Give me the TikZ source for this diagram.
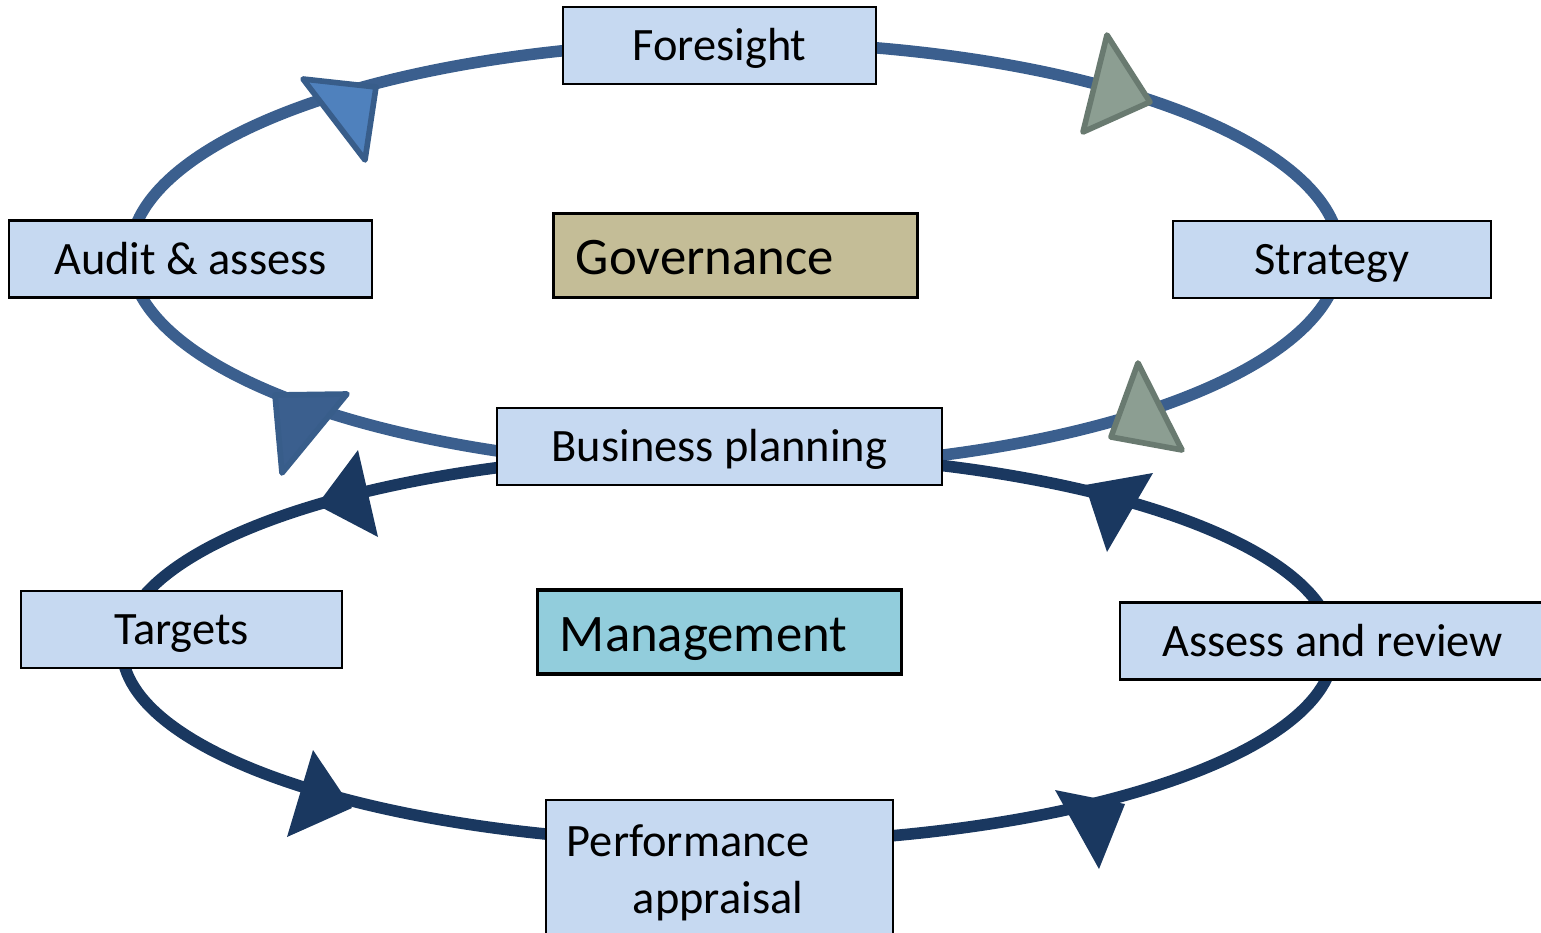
\documentclass[tikz,border=0pt]{standalone}
\usepackage{fontspec}
\setmainfont{Carlito}
\usetikzlibrary{positioning}

\definecolor{ringup}{HTML}{3B5F8E}
\definecolor{ringlow}{HTML}{1A3860}
\definecolor{stagefill}{HTML}{C6D9F1}
\definecolor{govfill}{HTML}{C4BD97}
\definecolor{mgmtfill}{HTML}{92CDDC}
\definecolor{tipblue}{HTML}{4F81BD}
\definecolor{tipblueline}{HTML}{385D8A}
\definecolor{tipgrey}{HTML}{8C9E92}
\definecolor{tipgreyline}{HTML}{697A70}

\begin{document}
\begin{tikzpicture}[x=0.01cm,y=-0.01cm,
  stage/.style={draw=black,line width=0.6pt,fill=stagefill,inner sep=0pt,
    minimum height=0.77cm,font=\fontsize{13.2}{16.2}\selectfont},
  oneline/.style={text height=9.2pt,text depth=0.4pt},
  area/.style={draw=black,line width=0.9pt,inner xsep=0.22cm,inner ysep=0pt,
    align=left,text width=3.19cm,minimum height=0.84cm,
    font=\fontsize{15}{18}\selectfont,text height=11.4pt,text depth=0.4pt},
  ring/.style={line width=3.3pt},
  tip/.style={line width=1.6pt,line join=round}
]
\useasboundingbox (0,0) rectangle (1541,933);
\clip (0,0) rectangle (1541,933);

% the two cycles
\coordinate (govc) at (735,255);
\coordinate (mgmtc) at (728,648);
\draw[ring,ringup] (govc) ellipse [x radius=605,y radius=-213];
\draw[ring,ringlow] (mgmtc) ellipse [x radius=606,y radius=-195];

% arrow heads, governance cycle
\draw[tip,draw=tipblueline,fill=tipblue] (303,79) -- (376,87) -- (365,160) -- cycle;
\draw[tip,draw=tipgreyline,fill=tipgrey] (1107,35) -- (1150,102) -- (1083,132) -- cycle;
\draw[tip,draw=tipgreyline,fill=tipgrey] (1138,363) -- (1182,450) -- (1111,437) -- cycle;
\draw[tip,draw=tipblueline,fill=ringup] (275,395) -- (347,394) -- (282,473) -- cycle;

% arrow heads, management cycle
\fill[ringlow] (358,450) -- (378,537) -- (317,505) -- cycle;
\fill[ringlow] (1085,485) -- (1153,473) -- (1107,552) -- cycle;
\fill[ringlow] (313,750) -- (352,808) -- (287,837) -- cycle;
\fill[ringlow] (1055,790) -- (1125,804) -- (1099,869) -- cycle;

% stages
\node[stage,oneline,minimum width=3.13cm] (foresight) at (719.5,45.5) {Foresight};
\node[stage,oneline,minimum width=3.63cm] (audit) at (190.5,259) {Audit \& assess};
\node[stage,oneline,minimum width=3.18cm] (strategy) at (1332,259.5) {Strategy};
\node[stage,oneline,minimum width=4.45cm] (business) at (719.5,446.5) {Business planning};
\node[stage,oneline,minimum width=3.21cm] (targets) at (181.5,629.5) {Targets};
\node[stage,oneline,minimum width=4.25cm] (assess) at (1332.5,641) {Assess and review};
\node[stage,minimum width=3.47cm,minimum height=1.45cm,align=left,
  text width=3.05cm,inner xsep=0.21cm] (appraisal) at (719.5,872.5)
  {Performance\\\hspace*{0.66cm}appraisal};

% centre labels
\node[area,fill=govfill,minimum width=3.63cm] (gov) at (735.5,255.5) {Governance};
\node[area,fill=mgmtfill,minimum width=3.63cm] (mgmt) at (719.5,632) {Management};
\end{tikzpicture}
\end{document}
